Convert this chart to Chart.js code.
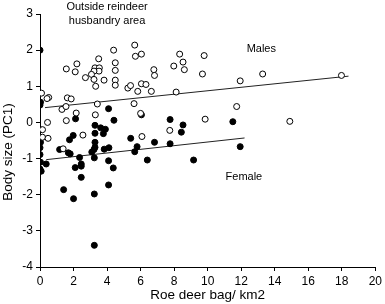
<!DOCTYPE html>
<html lang="en">
<head>
    <meta charset="UTF-8">
    <title>Body size vs roe deer bag</title>
    <script src="https://cdn.jsdelivr.net/npm/chart.js"></script>
    <style>
        body { margin: 0; padding: 0; background: #fff; }
        #wrap { width: 385px; height: 304px; position: relative; }
    </style>
</head>
<body>
<div id="wrap"><canvas id="chart"></canvas></div>
<script>
    // Males (open circles): roe deer bag / km2 and body size (PC1)
    const maleX = [5.65, 4.39, 8.33, 6.05, 5.69, 3.50, 2.20, 4.49, 8.53, 1.57, 2.10, 3.28, 3.54, 3.52, 3.22, 3.07,
        2.71, 3.22, 3.82, 3.32, 4.49, 4.49, 4.49, 5.24, 5.40, 5.83, 6.05, 6.32, 6.64, 6.79, 6.83, 7.98, 8.61, 8.12,
        5.61, 3.42, 6.00, 1.31, 1.63, 1.86, 1.55, 2.16, 0.52, 0.42, 0.09, 3.30, 1.57, 0.45, 2.56, 6.08, 0.15, 0.48,
        7.74, 1.38, 0.15, 9.79, 9.69, 11.94, 13.28, 17.98, 11.73, 9.85, 14.90];
    const maleY = [2.14, 2.00, 1.89, 1.89, 1.83, 1.76, 1.62, 1.65, 1.67, 1.48, 1.40, 1.51, 1.51, 1.42, 1.42, 1.33,
        1.24, 1.19, 1.17, 1.00, 1.44, 1.17, 1.03, 0.95, 1.02, 0.86, 1.07, 1.05, 0.86, 1.46, 1.30, 1.56, 1.46, 0.84,
        0.52, 0.51, 0.25, 0.36, 0.68, 0.65, 0.44, 0.26, 0.69, 0.66, 0.81, 0.21, 0.05, 0.00, -0.35, -0.39, -0.41, -0.44,
        -0.22, -0.73, -0.20, 1.85, 1.34, 1.15, 1.34, 1.30, 0.44, 0.09, 0.03];

    // Females (filled circles)
    const femaleX = [0.00, 0.03, 0.00, 0.00, 0.03, 0.00, 0.00, 0.03, 0.00, 0.07, 0.37, 1.17, 1.69, 1.80, 2.36, 2.10,
        2.46, 2.46, 2.46, 1.41, 2.00, 3.09, 3.22, 3.24, 3.24, 3.24, 3.83, 4.11, 4.09, 4.37, 4.09, 5.65, 5.79, 6.40,
        9.16, 6.83, 7.76, 5.41, 4.09, 2.12, 4.41, 6.05, 3.28, 3.62, 3.90, 3.28, 3.78, 1.98, 1.76, 7.76, 8.53, 8.43,
        3.28, 3.28, 11.50, 11.94];
    const femaleY = [2.00, 0.56, 0.48, -0.20, -0.55, -0.70, -0.89, -1.10, -1.29, -1.35, -1.15, -0.75, -0.84, -0.87,
        -0.97, -1.25, -1.15, -1.21, -1.52, -1.86, -2.11, -0.82, -0.75, -0.98, -1.98, -3.40, -0.74, -0.70, -1.06, -1.26,
        -1.73, -0.81, -0.67, -1.04, -1.04, -0.55, -0.59, -0.44, 0.38, 0.10, 0.06, 0.21, -0.08, -0.15, -0.19, -0.30,
        -0.31, -0.36, -0.48, 0.08, -0.07, -0.27, -0.55, -0.69, 0.02, -0.67];

    // Fitted regression lines (end points)
    const maleFitX = [0.30, 18.40];
    const maleFitY = [0.41, 1.28];
    const femaleFitX = [0.37, 12.20];
    const femaleFitY = [-1.03, -0.43];

    const xTicks = [0, 2, 4, 6, 8, 10, 12, 14, 16, 18, 20];
    const yTicks = [-4, -3, -2, -1, 0, 1, 2, 3];

    const toPoints = (xs, ys) => xs.map((x, i) => ({ x: x, y: ys[i] }));

    const FONT = 'Liberation Sans, Arial, Helvetica, sans-serif';

    // text placed inside the plot, in data units
    const notes = [
        { text: 'Outside reindeer', x: 4.0, y: 3.19 },
        { text: 'husbandry area', x: 4.0, y: 2.8 },
        { text: 'Males', x: 13.2, y: 2.03 },
        { text: 'Female', x: 12.16, y: -1.5 }
    ];

    const textPlugin = {
        id: 'textPlugin',
        afterDraw(chart) {
            const c = chart.ctx;
            const xs = chart.scales.x, ys = chart.scales.y;
            c.save();
            c.fillStyle = '#000';
            c.textAlign = 'center';
            c.textBaseline = 'middle';
            c.font = '11px ' + FONT;
            notes.forEach(n => c.fillText(n.text, xs.getPixelForValue(n.x), ys.getPixelForValue(n.y)));
            // y axis title
            c.translate(8.5, 152);
            c.rotate(-Math.PI / 2);
            c.font = '13.5px ' + FONT;
            c.fillText('Body size (PC1)', 0, 0);
            c.restore();
        }
    };

    const ctx = document.getElementById('chart').getContext('2d');
    new Chart(ctx, {
        type: 'scatter',
        data: {
            datasets: [
                {
                    label: 'Males',
                    data: toPoints(maleX, maleY),
                    pointRadius: 3,
                    pointBackgroundColor: '#fff',
                    pointBorderColor: '#000',
                    pointBorderWidth: 1
                },
                {
                    label: 'Female',
                    data: toPoints(femaleX, femaleY),
                    pointRadius: 3,
                    pointBackgroundColor: '#000',
                    pointBorderColor: '#000',
                    pointBorderWidth: 1
                },
                {
                    type: 'line',
                    label: 'Males fit',
                    data: toPoints(maleFitX, maleFitY),
                    borderColor: '#222',
                    borderWidth: 1,
                    pointRadius: 0,
                    fill: false
                },
                {
                    type: 'line',
                    label: 'Female fit',
                    data: toPoints(femaleFitX, femaleFitY),
                    borderColor: '#222',
                    borderWidth: 1,
                    pointRadius: 0,
                    fill: false
                }
            ]
        },
        options: {
            responsive: true,
            maintainAspectRatio: false,
            animation: false,
            layout: { padding: { top: 14, right: 8, left: 0, bottom: 0 } },
            plugins: {
                legend: { display: false },
                tooltip: { enabled: false }
            },
            scales: {
                x: {
                    type: 'linear',
                    min: 0,
                    max: 20,
                    afterFit: s => { s.height = 37; },
                    afterBuildTicks: s => { s.ticks = xTicks.map(v => ({ value: v })); },
                    grid: { drawOnChartArea: false, drawTicks: true, tickLength: 4, color: '#000' },
                    border: { color: '#000', width: 1 },
                    ticks: { color: '#000', font: { family: FONT, size: 12 }, padding: 3, maxRotation: 0 },
                    title: {
                        display: true,
                        text: 'Roe deer bag/ km2',
                        color: '#000',
                        font: { family: FONT, size: 13.5 },
                        padding: { top: 0, bottom: 1 }
                    }
                },
                y: {
                    type: 'linear',
                    min: -4,
                    max: 3,
                    afterFit: s => { s.width = 40; },
                    afterBuildTicks: s => { s.ticks = yTicks.map(v => ({ value: v })); },
                    grid: { drawOnChartArea: false, drawTicks: true, tickLength: 4, color: '#000' },
                    border: { color: '#000', width: 1 },
                    ticks: { color: '#000', font: { family: FONT, size: 12 }, padding: 3 }
                }
            }
        },
        plugins: [textPlugin]
    });
</script>
</body>
</html>
